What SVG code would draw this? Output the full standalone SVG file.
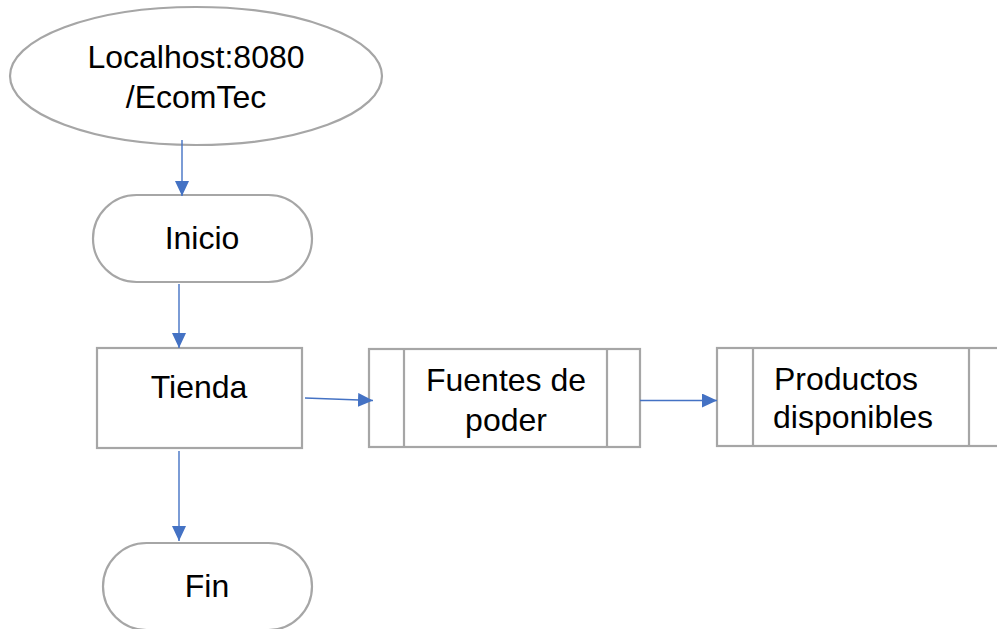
<svg xmlns="http://www.w3.org/2000/svg" width="997" height="629" viewBox="0 0 997 629">
<style>
.shape{fill:#ffffff;stroke:#a6a6a6;stroke-width:2.2}
.line{fill:none;stroke:#a6a6a6;stroke-width:2.2}
.lbl{font-family:"Liberation Sans",Arial,sans-serif;font-size:32px;fill:#000000}
.mid{text-anchor:middle}
.conn{fill:none;stroke:#4472c4;stroke-width:1.4}
</style>
<defs>
<marker id="ah" markerUnits="userSpaceOnUse" markerWidth="16" markerHeight="16" refX="15" refY="7" orient="auto">
<path d="M0,0 L15,7 L0,14 z" fill="#4472c4"/>
</marker>
</defs>
<rect width="997" height="629" fill="#ffffff"/>
<g id="n-localhost">
<ellipse class="shape" cx="196" cy="76" rx="186" ry="69"/>
<text class="lbl mid" x="196" y="68">Localhost:8080</text>
<text class="lbl mid" x="196" y="108">/EcomTec</text>
</g>
<g id="n-inicio">
<rect class="shape" x="93" y="195" width="219" height="87" rx="43.5" ry="43.5"/>
<text class="lbl mid" x="202" y="249">Inicio</text>
</g>
<g id="n-tienda">
<rect class="shape" x="97" y="348" width="205" height="100"/>
<text class="lbl mid" x="199" y="398">Tienda</text>
</g>
<g id="n-fuentes">
<rect class="shape" x="369" y="349" width="271" height="98"/>
<line class="line" x1="404" y1="349" x2="404" y2="447"/>
<line class="line" x1="607" y1="349" x2="607" y2="447"/>
<text class="lbl mid" x="506" y="391">Fuentes de</text>
<text class="lbl mid" x="506" y="431">poder</text>
</g>
<g id="n-productos">
<rect class="shape" x="717" y="348" width="290" height="98"/>
<line class="line" x1="753" y1="348" x2="753" y2="446"/>
<line class="line" x1="969" y1="348" x2="969" y2="446"/>
<text class="lbl" x="774" y="390">Productos</text>
<text class="lbl" x="773" y="428">disponibles</text>
</g>
<g id="n-fin">
<rect class="shape" x="103" y="543" width="209" height="87" rx="43.5" ry="43.5"/>
<text class="lbl mid" x="207" y="597">Fin</text>
</g>
<g id="connectors">
<line class="conn" x1="182" y1="140" x2="182" y2="196" marker-end="url(#ah)"/>
<line class="conn" x1="179" y1="284" x2="179" y2="348" marker-end="url(#ah)"/>
<line class="conn" x1="305" y1="398" x2="373" y2="400.5" marker-end="url(#ah)"/>
<line class="conn" x1="640" y1="400.5" x2="717" y2="400.5" marker-end="url(#ah)"/>
<line class="conn" x1="179" y1="451" x2="179" y2="541" marker-end="url(#ah)"/>
</g>
</svg>
